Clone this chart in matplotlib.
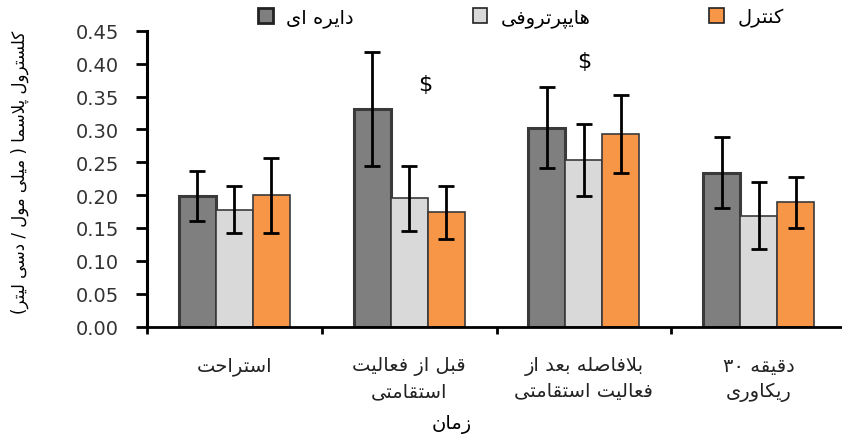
import re
import matplotlib
matplotlib.use("Agg")
import matplotlib.pyplot as plt
from matplotlib.patches import Patch

# data
groups = ["استراحت", "قبل از فعالیت\nاستقامتی", "بلافاصله بعد از\nفعالیت استقامتی", "دقیقه ۳۰\nریکاوری"]
series = ["دایره ای", "هایپرتروفی", "کنترل"]
circuit = [0.199, 0.331, 0.303, 0.234]
circuit_err = [0.038, 0.087, 0.062, 0.054]
hyper = [0.178, 0.195, 0.253, 0.169]
hyper_err = [0.036, 0.049, 0.055, 0.051]
control = [0.200, 0.174, 0.293, 0.189]
control_err = [0.057, 0.040, 0.059, 0.039]
sig_groups = [1, 2]            # groups marked with $
sig_heights = [0.369, 0.405]
sig_shift = [0.09, 0.0]

colors = ["#7f7f7f", "#d9d9d9", "#f79646"]

# small persian shaper (matplotlib has no arabic shaping / bidi)
FORMS = {
    'ا': (0xFE8D, 0xFE8E, None, None), 'ب': (0xFE8F, 0xFE90, 0xFE91, 0xFE92),
    'پ': (0xFB56, 0xFB57, 0xFB58, 0xFB59), 'ت': (0xFE95, 0xFE96, 0xFE97, 0xFE98),
    'ح': (0xFEA1, 0xFEA2, 0xFEA3, 0xFEA4), 'د': (0xFEA9, 0xFEAA, None, None),
    'ر': (0xFEAD, 0xFEAE, None, None), 'ز': (0xFEAF, 0xFEB0, None, None),
    'س': (0xFEB1, 0xFEB2, 0xFEB3, 0xFEB4), 'ص': (0xFEB9, 0xFEBA, 0xFEBB, 0xFEBC),
    'ع': (0xFEC9, 0xFECA, 0xFECB, 0xFECC), 'ف': (0xFED1, 0xFED2, 0xFED3, 0xFED4),
    'ق': (0xFED5, 0xFED6, 0xFED7, 0xFED8), 'ک': (0xFB8E, 0xFB8F, 0xFB90, 0xFB91),
    'ل': (0xFEDD, 0xFEDE, 0xFEDF, 0xFEE0), 'م': (0xFEE1, 0xFEE2, 0xFEE3, 0xFEE4),
    'ن': (0xFEE5, 0xFEE6, 0xFEE7, 0xFEE8), 'ه': (0xFEE9, 0xFEEA, 0xFEEB, 0xFEEC),
    'و': (0xFEED, 0xFEEE, None, None), 'ی': (0xFBFC, 0xFBFD, 0xFBFE, 0xFBFF),
}
DUAL = set('بپتحسصعفقکلمنهی')


def shape(word):
    out = []
    i = 0
    while i < len(word):
        c = word[i]
        if c not in FORMS:
            out.append(c)
            i += 1
            continue
        prev = word[i - 1] if i > 0 else ''
        jp = prev in DUAL
        if c == 'ل' and i + 1 < len(word) and word[i + 1] == 'ا':
            out.append(chr(0xFEFC if jp else 0xFEFB))
            i += 2
            continue
        nxt = word[i + 1] if i + 1 < len(word) else ''
        jn = c in DUAL and nxt in FORMS
        iso, fin, ini, med = FORMS[c]
        g = med if (jp and jn) else fin if jp else ini if jn else iso
        out.append(chr(g))
        i += 1
    return ''.join(out)


def rtl(text):
    lines = []
    for line in text.split("\n"):
        s = shape(line)[::-1].translate(str.maketrans('()', ')('))
        s = re.sub(r'[0-9۰-۹.]+', lambda m: m.group(0)[::-1], s)
        lines.append(s)
    return "\n".join(lines)


plt.rcParams['font.family'] = ['DejaVu Sans']

fig = plt.figure(figsize=(8.42, 4.35), dpi=100)
ax = fig.add_axes([147 / 842, 1 - 327.5 / 435, 699 / 842, 295.5 / 435])

w = 0.212
x = list(range(len(groups)))
vals = [circuit, hyper, control]
errs = [circuit_err, hyper_err, control_err]
for k in range(3):
    xs = [i + (k - 1) * w for i in x]
    ax.bar(xs, vals[k], w, color=colors[k], edgecolor="#3a3a3a",
           linewidth=2.2 if k == 0 else 1.2, zorder=2)
    ax.errorbar(xs, vals[k], yerr=errs[k], fmt="none", ecolor="black",
                elinewidth=2, capsize=5.5, capthick=2, zorder=3)

for g, h, s in zip(sig_groups, sig_heights, sig_shift):
    ax.text(g + s, h, "$", ha="center", va="center", fontsize=16)

ax.set_xlim(-0.5, 3.5)
ax.set_ylim(0, 0.45)
ax.set_yticks([i * 0.05 for i in range(10)])
ax.set_yticklabels(["%.2f" % (i * 0.05) for i in range(10)], fontsize=14, color="#333333")
ax.tick_params(axis="y", direction="out", length=8, width=2, pad=12)

ax.set_xticks([-0.5, 0.5, 1.5, 2.5])
ax.set_xticklabels([])
ax.tick_params(axis="x", which="major", direction="out", length=5, width=2)
ax.set_xticks(x, minor=True)
ax.set_xticklabels([rtl(g) for g in groups], minor=True, fontsize=14,
                   linespacing=1.45, color="#222222")
ax.tick_params(axis="x", which="minor", length=0, pad=21)

for sp in ["top", "right"]:
    ax.spines[sp].set_visible(False)
ax.spines["left"].set_linewidth(2.2)
ax.spines["bottom"].set_linewidth(2)

fig.text(20 / 842, 1 - 172 / 435, rtl("کلسترول پلاسما ( میلی مول / دسی لیتر)"),
         rotation=90, ha="center", va="center", fontsize=12)
fig.text(452 / 842, 1 - 425 / 435, rtl("زمان"), ha="center", va="center", fontsize=14)

handles = [Patch(facecolor=colors[k], edgecolor="#222222",
                 linewidth=2 if k == 0 else 1.2) for k in range(3)]
fig.legend(handles, [rtl(s) for s in series], ncol=3, loc="center",
           bbox_to_anchor=(521 / 842, 1 - 18 / 435), frameon=False, fontsize=14,
           handlelength=0.75, handleheight=0.75, columnspacing=6.1, handletextpad=0.7)

fig.savefig("out.png", dpi=100)
